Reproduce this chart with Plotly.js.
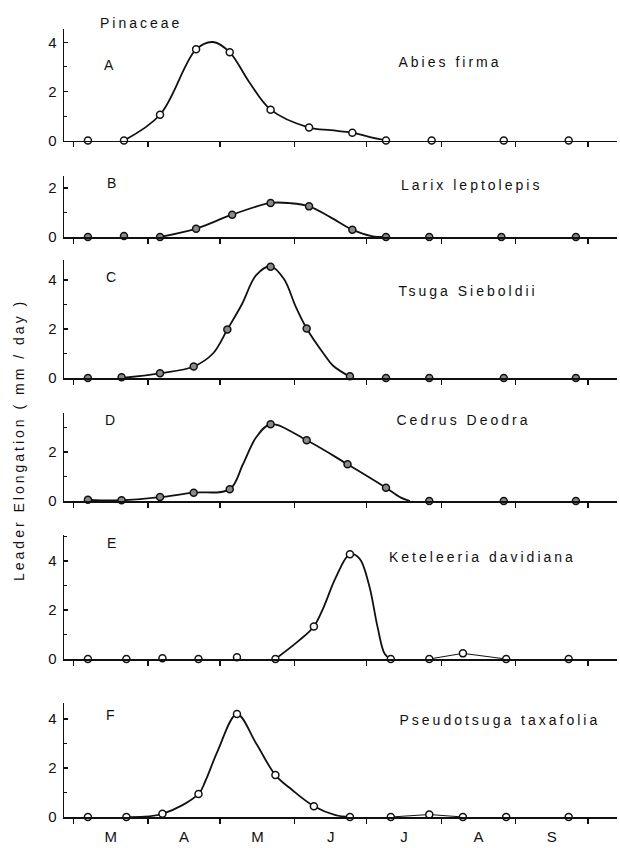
<!DOCTYPE html>
<html>
<head>
<meta charset="utf-8">
<script src="https://cdn.plot.ly/plotly-3.0.1.min.js"></script>
<style>
  html, body { margin: 0; padding: 0; background: #fff; }
  #chart { width: 620px; height: 848px; }
</style>
</head>
<body>
<div id="chart"></div>
<script>
// ---------- DATA (x = days after 1 March, y = leader elongation, mm/day) ----------
const monthStarts = [0, 31, 61, 92, 122, 153, 184, 214];
const monthLabels = ['M', 'A', 'M', 'J', 'J', 'A', 'S'];
const familyName = 'Pinaceae';
const panelLetters = ['A', 'B', 'C', 'D', 'E', 'F'];
const speciesNames = ['Abies firma', 'Larix leptolepis', 'Tsuga Sieboldii',
                      'Cedrus Deodra', 'Keteleeria davidiana', 'Pseudotsuga taxafolia'];
const yTitle = 'Leader Elongation ( mm / day )';

// A  Abies firma
const dayA = [6, 21, 36, 51, 65, 82, 98, 116, 130, 149, 179, 206];
const valA = [0, 0, 1.05, 3.72, 3.6, 1.26, 0.53, 0.32, 0, 0, 0, 0];
const curveDayA = [21, 36, 51, 58, 65, 73, 82, 98, 107, 116, 123, 130];
const curveValA = [0, 1.05, 3.72, 4.02, 3.6, 2.4, 1.26, 0.53, 0.42, 0.32, 0.15, 0];

// B  Larix leptolepis
const dayB = [6, 21, 36, 51, 66, 82, 98, 116, 130, 148, 178, 209];
const valB = [0, 0.04, 0, 0.34, 0.91, 1.39, 1.25, 0.30, 0, 0, 0, 0];
const curveDayB = [36, 51, 66, 82, 90, 98, 107, 116, 124, 130];
const curveValB = [0, 0.34, 0.91, 1.39, 1.38, 1.25, 0.8, 0.30, 0.04, 0];

// C  Tsuga Sieboldii
const dayC = [6, 20, 36, 50, 64, 82, 97, 115, 130, 148, 179, 209];
const valC = [0, 0.03, 0.19, 0.47, 1.98, 4.54, 2.02, 0.07, 0, 0, 0, 0];
const curveDayC = [20, 36, 50, 58, 64, 70, 76, 82, 87.5, 92.5, 97, 104, 108, 116];
const curveValC = [0, 0.19, 0.47, 1.0, 1.98, 3.0, 4.2, 4.56, 4.05, 2.9, 2.02, 1.0, 0.5, 0];

// D  Cedrus Deodra
const dayD = [6, 20, 36, 50, 65, 82, 97, 114, 130, 148, 179, 209];
const valD = [0.05, 0.03, 0.16, 0.34, 0.48, 3.13, 2.48, 1.50, 0.54, 0, 0, 0];
const curveDayD = [6, 20, 36, 50, 65, 70.5, 76, 82, 97, 114, 130, 136, 140];
const curveValD = [0.05, 0.03, 0.16, 0.34, 0.48, 1.5, 2.6, 3.13, 2.48, 1.5, 0.54, 0.15, 0];

// E  Keteleeria davidiana
const dayE = [6, 22, 37, 52, 68, 84, 100, 115, 132, 148, 162, 180, 206];
const valE = [0, 0, 0.03, 0, 0.07, 0, 1.33, 4.28, 0, 0, 0.23, 0, 0];
const curveDayE = [84, 94, 100, 104, 109, 115, 119, 123, 126.5, 129.5, 132];
const curveValE = [0, 0.77, 1.33, 2.1, 3.3, 4.28, 4.1, 3.0, 1.3, 0.2, 0];
const bumpDayE = [148, 162, 180];
const bumpValE = [0, 0.23, 0];

// F  Pseudotsuga taxafolia
const dayF = [6, 22, 37, 52, 68, 84, 100, 115, 132, 148, 162, 180, 206];
const valF = [0, 0, 0.13, 0.94, 4.2, 1.71, 0.44, 0, 0, 0.1, 0, 0, 0];
const curveDayF = [22, 37, 52, 55, 60, 68, 76, 84, 91, 100, 109, 115];
const curveValF = [0, 0.13, 0.94, 1.5, 2.7, 4.2, 3.0, 1.71, 1.1, 0.44, 0.08, 0];
const bumpDayF = [132, 148, 162];
const bumpValF = [0, 0.1, 0];

// ---------- LAYOUT / STYLE ----------
const W = 620, H = 848;
const FONT = 'Liberation Sans, Arial, Helvetica, sans-serif';
const INK = '#111';
const PX_PER_UNIT = 24.5;
const px2x = p => p / W;
const px2y = p => (H - p) / H;

const panels = [
  {day: dayA, val: valA, cx: curveDayA, cy: curveValA, fill: '#fff', zero: 140.5, top: 4.55, lab: [109, 65], sp: [449.5, 62]},
  {day: dayB, val: valB, cx: curveDayB, cy: curveValB, fill: '#8a8a8a', zero: 237, top: 2.5, lab: [111, 183], sp: [471, 185]},
  {day: dayC, val: valC, cx: curveDayC, cy: curveValC, fill: '#8a8a8a', zero: 378, top: 4.8, lab: [111, 277], sp: [467.5, 291]},
  {day: dayD, val: valD, cx: curveDayD, cy: curveValD, fill: '#8a8a8a', zero: 501, top: 3.6, lab: [110, 420], sp: [463, 420]},
  {day: dayE, val: valE, cx: curveDayE, cy: curveValE, fill: '#fff', zero: 659, top: 5.06, lab: [111, 543], sp: [482, 557],
   bx: bumpDayE, by: bumpValE},
  {day: dayF, val: valF, cx: curveDayF, cy: curveValF, fill: '#fff', zero: 817, top: 4.65, lab: [110, 715], sp: [500, 720],
   bx: bumpDayF, by: bumpValF}
];

const monthMids = monthLabels.map((m, i) => (monthStarts[i] + monthStarts[i + 1]) / 2);
const xRange = [-3.95, 226.1];

const traces = [];
const layout = {
  width: W, height: H,
  margin: {l: 0, r: 0, t: 0, b: 0},
  paper_bgcolor: '#fff', plot_bgcolor: '#fff',
  showlegend: false,
  font: {family: FONT, color: INK},
  annotations: []
};

panels.forEach((p, i) => {
  const n = i + 1;
  const xa = 'x' + (n === 1 ? '' : n), ya = 'y' + (n === 1 ? '' : n);
  traces.push({x: p.cx, y: p.cy, xaxis: xa, yaxis: ya, mode: 'lines', hoverinfo: 'skip',
    line: {color: INK, width: 1.8, shape: 'spline', smoothing: 1}});
  if (p.bx) {
    traces.push({x: p.bx, y: p.by, xaxis: xa, yaxis: ya, mode: 'lines', hoverinfo: 'skip',
      line: {color: INK, width: 1}});
  }
  traces.push({x: p.day, y: p.val, xaxis: xa, yaxis: ya, mode: 'markers', cliponaxis: false,
    marker: {size: 7, color: p.fill, line: {color: INK, width: 1.5}}});

  const top = p.zero - p.top * PX_PER_UNIT;
  layout['xaxis' + (n === 1 ? '' : n)] = {
    domain: [px2x(64), px2x(617)], range: xRange, anchor: ya,
    showline: true, linecolor: INK, linewidth: 1.5, showgrid: false, zeroline: false,
    tickmode: 'array', tickvals: monthMids, ticktext: monthLabels, ticks: '',
    showticklabels: n === 6, tickfont: {family: FONT, size: 15, color: INK}, ticklabelstandoff: 5,
    minor: {tickmode: 'array', tickvals: monthStarts, ticks: 'outside', ticklen: 5, tickwidth: 1.3, tickcolor: INK, showgrid: false},
    fixedrange: true
  };
  layout['yaxis' + (n === 1 ? '' : n)] = {
    domain: [px2y(p.zero), px2y(top)], range: [0, p.top], anchor: xa,
    showline: true, linecolor: INK, linewidth: 1.5, showgrid: false, zeroline: false,
    tickmode: 'linear', tick0: 0, dtick: 2, ticks: 'inside', ticklen: 4, tickwidth: 1.3, tickcolor: INK,
    minor: {tickmode: 'linear', tick0: 0, dtick: 1, ticks: 'inside', ticklen: 3, tickwidth: 1, tickcolor: INK, showgrid: false},
    tickfont: {family: FONT, size: 15, color: INK}, ticklabelstandoff: 3,
    fixedrange: true
  };
  layout.annotations.push({xref: 'paper', yref: 'paper', x: px2x(p.lab[0]), y: px2y(p.lab[1]),
    text: panelLetters[i], showarrow: false, xanchor: 'center', yanchor: 'middle',
    font: {family: FONT, size: 14, color: INK}});
  layout.annotations.push({xref: 'paper', yref: 'paper', x: px2x(p.sp[0]), y: px2y(p.sp[1]),
    text: speciesNames[i], showarrow: false, xanchor: 'center', yanchor: 'middle',
    font: {family: FONT, size: 14, color: INK}});
});

layout.annotations.push({xref: 'paper', yref: 'paper', x: px2x(141.5), y: px2y(23),
  text: familyName, showarrow: false, xanchor: 'center', yanchor: 'middle',
  font: {family: FONT, size: 14, color: INK}});
layout.annotations.push({xref: 'paper', yref: 'paper', x: px2x(19), y: px2y(440),
  text: yTitle, textangle: -90, showarrow: false, xanchor: 'center', yanchor: 'middle',
  font: {family: FONT, size: 14, color: INK}});

Plotly.newPlot('chart', traces, layout, {displayModeBar: false, staticPlot: true}).then(() => {
  const spaced = new Set([familyName, yTitle].concat(speciesNames));
  document.querySelectorAll('.annotation-text').forEach(el => {
    if (spaced.has(el.textContent)) el.setAttribute('letter-spacing', '3');
  });
});
</script>
</body>
</html>
